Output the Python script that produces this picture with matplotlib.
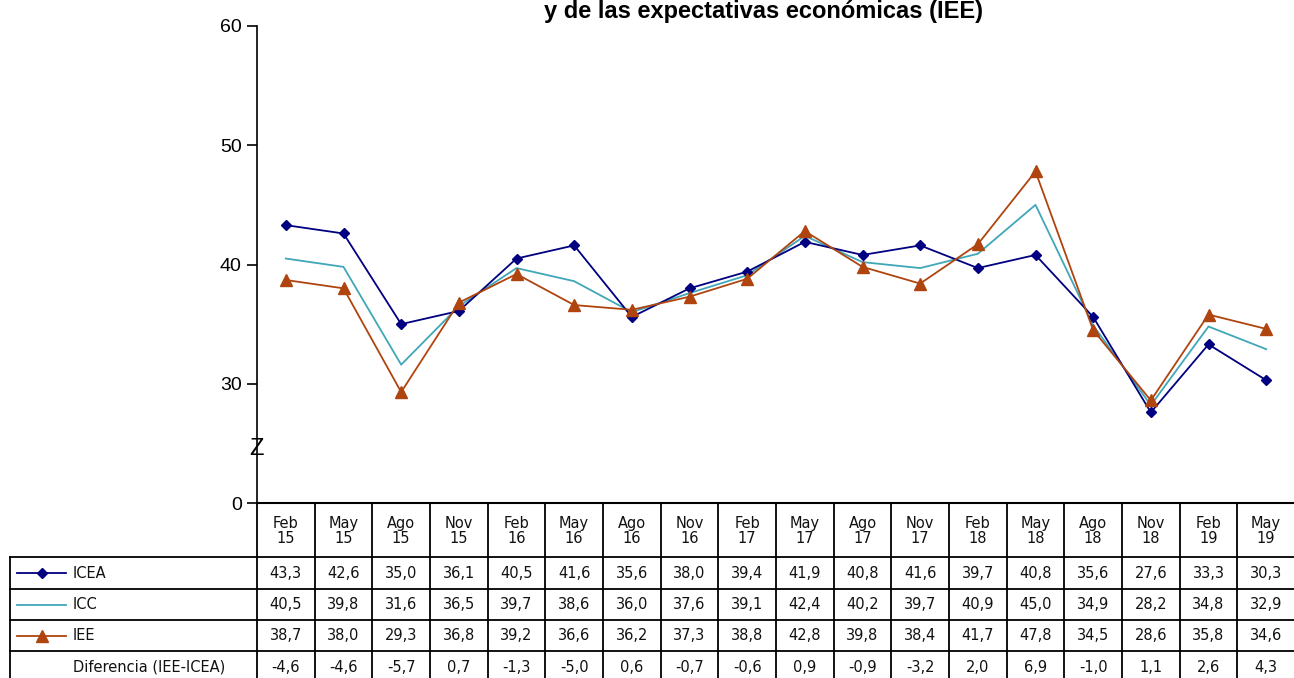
import matplotlib
matplotlib.use("Agg")
import matplotlib.pyplot as plt
from matplotlib.transforms import blended_transform_factory
from matplotlib.lines import Line2D

months = ["Feb\n15", "May\n15", "Ago\n15", "Nov\n15", "Feb\n16", "May\n16", "Ago\n16", "Nov\n16",
          "Feb\n17", "May\n17", "Ago\n17", "Nov\n17", "Feb\n18", "May\n18", "Ago\n18", "Nov\n18",
          "Feb\n19", "May\n19"]
icea = [43.3, 42.6, 35.0, 36.1, 40.5, 41.6, 35.6, 38.0, 39.4, 41.9, 40.8, 41.6, 39.7, 40.8, 35.6, 27.6, 33.3, 30.3]
icc = [40.5, 39.8, 31.6, 36.5, 39.7, 38.6, 36.0, 37.6, 39.1, 42.4, 40.2, 39.7, 40.9, 45.0, 34.9, 28.2, 34.8, 32.9]
iee = [38.7, 38.0, 29.3, 36.8, 39.2, 36.6, 36.2, 37.3, 38.8, 42.8, 39.8, 38.4, 41.7, 47.8, 34.5, 28.6, 35.8, 34.6]
dif = [-4.6, -4.6, -5.7, 0.7, -1.3, -5.0, 0.6, -0.7, -0.6, 0.9, -0.9, -3.2, 2.0, 6.9, -1.0, 1.1, 2.6, 4.3]
ytick_pos = [20, 30, 40, 50, 60]
ytick_lab = ["0", "30", "40", "50", "60"]
title = "y de las expectativas económicas (IEE)"

C_ICEA = "#000080"
C_ICC = "#3FA7B8"
C_IEE = "#B0440E"

W, H = 1294, 678
fig = plt.figure(figsize=(W / 100, H / 100), dpi=100)

def fy(py):
    return 1 - py / H

def fx(px):
    return px / W

ax_left, ax_right = 257, 1295
ax_top, ax_bot = 26, 503
ax = fig.add_axes([fx(ax_left), fy(ax_bot), fx(ax_right - ax_left), (ax_bot - ax_top) / H])
n = len(months)
x = list(range(n))
ax.plot(x, icea, color=C_ICEA, lw=1.3, marker="D", ms=5.5, zorder=4)
ax.plot(x, icc, color=C_ICC, lw=1.3, zorder=3)
ax.plot(x, iee, color=C_IEE, lw=1.3, marker="^", ms=8, zorder=5)
ax.set_xlim(-0.5, n - 0.5)
ax.set_ylim(20, 60)
ax.set_yticks(ytick_pos)
ax.set_yticklabels(ytick_lab, fontfamily="Liberation Sans", fontsize=14)
ax.tick_params(axis="y", length=7, width=1.2, direction="out", pad=4)
ax.set_xticks([])
for s in ["top", "right"]:
    ax.spines[s].set_visible(False)
ax.spines["left"].set_linewidth(1.2)
ax.spines["bottom"].set_linewidth(1.5)
# axis break mark
ax.text(-0.5, 24.5, "Z", ha="center", va="center", fontsize=17, fontfamily="Liberation Sans",
        transform=ax.transData, clip_on=False, zorder=6)

fig.text(fx(763), fy(0), title, ha="center", va="top", fontsize=17, fontweight="bold",
         fontfamily="Liberation Sans")

# table
tr = blended_transform_factory(ax.transData, fig.transFigure)
row_y = [503, 557, 589, 620, 651, 683]
lw = 1.3
tf = dict(fontfamily="DejaVu Sans", fontsize=10.5, color="#111111")
# vertical lines in data columns
for i in range(n + 1):
    ax.add_line(Line2D([i - 0.5, i - 0.5], [fy(row_y[0]), fy(row_y[-1])], transform=tr,
                       color="black", lw=lw, clip_on=False))
# horizontal lines
for py in row_y[1:-1]:
    fig.add_artist(Line2D([fx(10), fx(W)], [fy(py), fy(py)], color="black", lw=lw))
fig.add_artist(Line2D([fx(10), fx(10)], [fy(row_y[1]), fy(row_y[-1])], color="black", lw=lw))

# header
for i, m in enumerate(months):
    ax.text(i, fy((row_y[0] + row_y[1]) / 2 + 1), m, transform=tr, ha="center", va="center",
            linespacing=1.05, clip_on=False, **tf)
rows = [icea, icc, iee, dif]
for r, vals in enumerate(rows):
    yc = fy((row_y[r + 1] + row_y[r + 2]) / 2)
    for i, v in enumerate(vals):
        ax.text(i, yc, f"{v:.1f}".replace(".", ","), transform=tr, ha="center", va="center",
                clip_on=False, **tf)

labels = ["ICEA", "ICC", "IEE", "Diferencia (IEE-ICEA)"]
styles = [(C_ICEA, "D", 5), (C_ICC, None, 0), (C_IEE, "^", 8), (None, None, 0)]
for r, (lab, st) in enumerate(zip(labels, styles)):
    yc = fy((row_y[r + 1] + row_y[r + 2]) / 2)
    col, mk, ms = st
    if col is not None:
        fig.add_artist(Line2D([fx(17), fx(66)], [yc, yc], color=col, lw=1.3))
        if mk:
            fig.add_artist(Line2D([fx(41.5)], [yc], color=col, marker=mk, ms=ms, lw=0))
    fig.text(fx(73), yc, lab, ha="left", va="center", **tf)

fig.savefig("out.png", dpi=100)
